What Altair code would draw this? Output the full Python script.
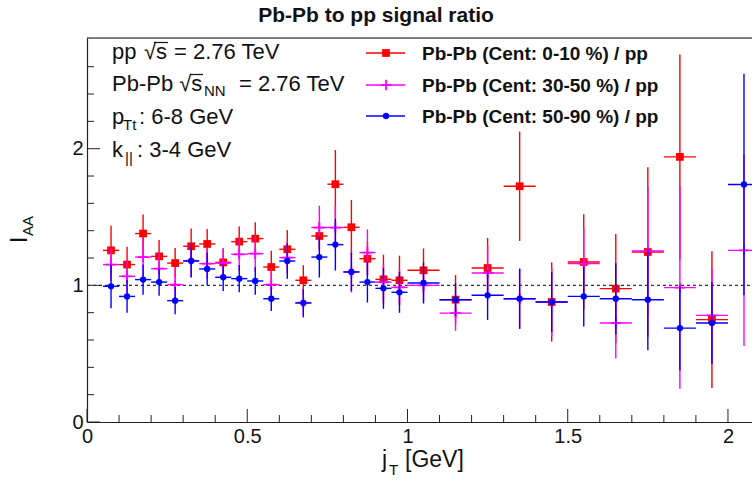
import altair as alt
import pandas as pd

# ---------------- data ----------------
bin_lo = [0.05, 0.10, 0.15, 0.20, 0.25, 0.30, 0.35, 0.40, 0.45, 0.50,
          0.55, 0.60, 0.65, 0.70, 0.75, 0.80, 0.85, 0.90, 0.95,
          1.0, 1.1, 1.2, 1.3, 1.4, 1.5, 1.6, 1.7, 1.8, 1.9, 2.0]
bin_hi = [0.10, 0.15, 0.20, 0.25, 0.30, 0.35, 0.40, 0.45, 0.50, 0.55,
          0.60, 0.65, 0.70, 0.75, 0.80, 0.85, 0.90, 0.95, 1.0,
          1.1, 1.2, 1.3, 1.4, 1.5, 1.6, 1.7, 1.8, 1.9, 2.0, 2.1]

cent010_val = [1.256, 1.152, 1.379, 1.212, 1.163, 1.286, 1.303, 1.168, 1.320, 1.342,
               1.134, 1.264, 1.037, 1.361, 1.740, 1.425, 1.195, 1.044, 1.037,
               1.110, 0.895, 1.127, 1.725, 0.878, 1.171, 0.976, 1.244, 1.940, 0.749, None]
cent010_err = [0.18, 0.13, 0.14, 0.12, 0.11, 0.13, 0.11, 0.10, 0.11, 0.12,
               0.12, 0.14, 0.11, 0.10, 0.25, 0.20, 0.12, 0.18, 0.18,
               0.16, 0.18, 0.22, 0.40, 0.29, 0.35, 0.40, 0.62, 0.75, 0.50, None]

cent3050_val = [1.152, 1.066, 1.207, 1.122, 1.005, 1.180, 1.159, 1.163, 1.227, 1.232,
                1.005, 1.203, 0.873, 1.423, 1.423, 1.098, 1.240, 1.024, 0.985,
                1.000, 0.797, 1.090, 0.902, 0.878, 1.159, 0.724, 1.251, 0.983, 0.780, 1.256]
cent3050_err = [0.12, 0.12, 0.14, 0.12, 0.12, 0.12, 0.11, 0.11, 0.12, 0.13,
                0.12, 0.12, 0.11, 0.16, 0.16, 0.15, 0.17, 0.13, 0.13,
                0.12, 0.13, 0.20, 0.22, 0.25, 0.26, 0.26, 0.47, 0.74, 0.34, 0.70]

cent5090_val = [0.993, 0.919, 1.042, 1.024, 0.888, 1.178, 1.120, 1.059, 1.049, 1.032,
                0.902, 1.178, 0.871, 1.207, 1.298, 1.098, 1.024, 0.978, 0.949,
                1.017, 0.895, 0.927, 0.902, 0.878, 0.919, 0.902, 0.895, 0.687, 0.724, 1.738]
cent5090_err = [0.16, 0.12, 0.11, 0.10, 0.10, 0.12, 0.12, 0.10, 0.10, 0.10,
                0.09, 0.13, 0.10, 0.15, 0.19, 0.14, 0.15, 0.15, 0.15,
                0.15, 0.12, 0.18, 0.22, 0.22, 0.22, 0.26, 0.37, 0.31, 0.30, 0.81]

series_names = ["Pb-Pb (Cent: 0-10 %) / pp",
                "Pb-Pb (Cent: 30-50 %) / pp",
                "Pb-Pb (Cent: 50-90 %) / pp"]
series_vals = [cent010_val, cent3050_val, cent5090_val]
series_errs = [cent010_err, cent3050_err, cent5090_err]

x_ticks_major = [0, 0.5, 1, 1.5, 2]
x_ticks_minor = [0.1, 0.2, 0.3, 0.4, 0.6, 0.7, 0.8, 0.9, 1.1, 1.2, 1.3, 1.4,
                 1.6, 1.7, 1.8, 1.9]
y_ticks_major = [0, 1, 2]
y_ticks_minor = [0.2, 0.4, 0.6, 0.8, 1.2, 1.4, 1.6, 1.8, 2.2, 2.4, 2.6]

# ---------------- table ----------------
rows = []
for name, vals, errs in zip(series_names, series_vals, series_errs):
    for lo, hi, v, e in zip(bin_lo, bin_hi, vals, errs):
        if v is None:
            continue
        rows.append({"series": name, "x": (lo + hi) / 2, "xlo": lo, "xhi": hi,
                     "y": v, "ylo": v - e, "yhi": v + e})
df = pd.DataFrame(rows)

# ---------------- style ----------------
W, H = 665, 384
colors = ["#ff0000", "#ff00ff", "#0000ff"]
shapes = ["square", "M-1,0L1,0M0,-1L0,1", "circle"]
sizes = [60, 110, 40]
filled = [True, False, True]
F = "Liberation Sans"

xs = alt.Scale(domain=[0, 2.075], nice=False, zero=False)
ys = alt.Scale(domain=[0, 2.81], nice=False, zero=False)

xaxis = alt.Axis(values=x_ticks_major, format="~g", tickSize=0, grid=False, title=None,
                 domainColor="#222", domainWidth=1.2, labelFont=F, labelFontSize=20,
                 labelColor="#111", labelPadding=4, labelFlush=False, labelOverlap=False)
yaxis = alt.Axis(values=y_ticks_major, format="~g", tickSize=0, grid=False, title=None,
                 domainColor="#222", domainWidth=1.2, labelFont=F, labelFontSize=20,
                 labelColor="#111", labelPadding=4, labelFlush=False, labelOverlap=False)


def X(f):
    return alt.X(f, scale=xs, axis=xaxis)


def Y(f):
    return alt.Y(f, scale=ys, axis=yaxis)


one = pd.DataFrame({"k": [0]})
layers = []

# tick marks pointing inward
layers.append(alt.Chart(pd.DataFrame({"v": x_ticks_major})).mark_rule(color="#222").encode(
    x=X("v:Q"), y=alt.value(H), y2=alt.value(H - 13)))
layers.append(alt.Chart(pd.DataFrame({"v": x_ticks_minor})).mark_rule(color="#222").encode(
    x=X("v:Q"), y=alt.value(H), y2=alt.value(H - 7)))
layers.append(alt.Chart(pd.DataFrame({"v": y_ticks_major})).mark_rule(color="#222").encode(
    y=Y("v:Q"), x=alt.value(0), x2=alt.value(13)))
layers.append(alt.Chart(pd.DataFrame({"v": y_ticks_minor})).mark_rule(color="#222").encode(
    y=Y("v:Q"), x=alt.value(0), x2=alt.value(7)))

# top frame line
layers.append(alt.Chart(one).mark_rule(color="#111", strokeWidth=1).encode(
    x=alt.value(0), x2=alt.value(W), y=alt.value(0)))

# reference line at 1
layers.append(alt.Chart(pd.DataFrame({"v": [1.0]})).mark_rule(
    color="#333", strokeDash=[3, 3], strokeWidth=1.2).encode(
    y=Y("v:Q"), x=alt.value(0), x2=alt.value(W)))

# data series
for name, c, sh, sz, fl in zip(series_names, colors, shapes, sizes, filled):
    base = alt.Chart(df).transform_filter(alt.datum.series == name)
    layers.append(base.mark_rule(color=c, strokeWidth=1.4, clip=True).encode(
        x=X("x:Q"), y=Y("ylo:Q"), y2="yhi:Q"))
    layers.append(base.mark_rule(color=c, strokeWidth=1.4, clip=True).encode(
        x=X("xlo:Q"), x2="xhi:Q", y=Y("y:Q")))
    layers.append(base.mark_point(shape=sh, size=sz, filled=fl, color=c, opacity=1,
                                  strokeWidth=1.8, clip=True).encode(
        x=X("x:Q"), y=Y("y:Q")))

# legend
leg_y = [15, 47, 78]
for name, c, sh, sz, fl, ly in zip(series_names, colors, shapes, sizes, filled, leg_y):
    layers.append(alt.Chart(one).mark_rule(color=c, strokeWidth=1.4).encode(
        x=alt.value(279), x2=alt.value(318), y=alt.value(ly)))
    layers.append(alt.Chart(one).mark_point(shape=sh, size=sz, filled=fl, color=c, opacity=1,
                                            strokeWidth=1.8).encode(
        x=alt.value(299), y=alt.value(ly)))
    layers.append(alt.Chart(one).mark_text(text=name, align="left", baseline="middle",
                                           font=F, fontSize=19, fontWeight="bold",
                                           color="#111").encode(
        x=alt.value(335), y=alt.value(ly + 1)))


def txt(t, x, y, size=22, weight="normal", angle=0, align="left"):
    kw = dict(text=t, align=align, baseline="alphabetic", font=F, fontSize=size,
              fontWeight=weight, color="#111")
    if angle:
        kw["angle"] = angle
    return alt.Chart(one).mark_text(**kw).encode(x=alt.value(x), y=alt.value(y))


def hline(x1, x2, y):
    return alt.Chart(one).mark_rule(color="#111", strokeWidth=1.2).encode(
        x=alt.value(x1), x2=alt.value(x2), y=alt.value(y))


# info text (top-left)
layers += [
    txt("pp", 25, 21),
    txt("\u221As", 57, 21),
    hline(67, 81, 4.5),
    txt("= 2.76 TeV", 87, 21),
    txt("Pb-Pb \u221As", 25, 53),
    hline(103, 116, 36.5),
    txt("NN", 117, 58, size=15),
    txt("= 2.76 TeV", 152, 53),
    txt("p", 25, 86),
    txt("Tt", 36, 92, size=15),
    txt(": 6-8 GeV", 52, 86),
    txt("k", 25, 119),
    txt("||", 38, 125, size=15),
    txt(": 3-4 GeV", 50, 119),
]

# title
layers.append(txt("Pb-Pb to pp signal ratio", 376 - 87, -16, size=21,
                  weight="bold", align="center"))

# axis titles
layers += [
    txt("j", 295, 429, size=23),
    txt("T", 302, 437, size=15),
    txt("[GeV]", 318, 429, size=23),
    txt("I", -60, 205, size=23, angle=270),
    txt("AA", -54, 198, size=15, angle=270),
]

chart = alt.layer(*layers).properties(
    width=W, height=H,
    autosize=alt.AutoSizeParams(type="none"),
    padding={"left": 87, "top": 38, "right": 0, "bottom": 60},
).configure_view(stroke=None).configure(background="white")

chart.save("out.html", embed_options={"renderer": "svg", "actions": False})
